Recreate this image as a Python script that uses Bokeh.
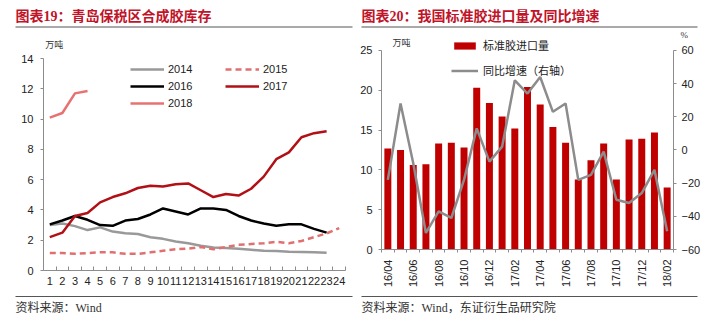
from math import pi
from bokeh.plotting import figure
from bokeh.layouts import row, column
from bokeh.models import (Range1d, LinearAxis, FixedTicker, Legend, LegendItem,
                          Label, BoxAnnotation, ColumnDataSource)
from bokeh.embed import file_html
from bokeh.resources import INLINE

# ---------------- data ----------------
weeks = list(range(1, 25))
week_labels = [str(i) for i in weeks]
s2014 = [3.0, 3.1, 2.93, 2.67, 2.85, 2.57, 2.46, 2.41, 2.2, 2.09, 1.91, 1.8, 1.63,
         1.52, 1.48, 1.43, 1.37, 1.3, 1.28, 1.24, 1.22, 1.2, 1.17]
s2015 = [1.15, 1.15, 1.1, 1.15, 1.2, 1.2, 1.1, 1.1, 1.2, 1.3, 1.4, 1.45, 1.55, 1.4,
         1.55, 1.7, 1.75, 1.8, 1.9, 1.8, 1.95, 2.2, 2.45, 2.8]
s2016 = [3.05, 3.3, 3.6, 3.35, 3.0, 2.95, 3.3, 3.4, 3.7, 4.1, 3.9, 3.7, 4.1, 4.1,
         4.0, 3.6, 3.3, 3.1, 2.95, 3.05, 3.05, 2.75, 2.5]
s2017 = [2.2, 2.5, 3.6, 3.8, 4.5, 4.85, 5.1, 5.45, 5.6, 5.55, 5.7, 5.75, 5.3, 4.85,
         5.05, 4.95, 5.4, 6.2, 7.35, 7.8, 8.8, 9.07, 9.2]
s2018 = [10.1, 10.4, 11.7, 11.85]

months = ["16/04", "16/05", "16/06", "16/07", "16/08", "16/09", "16/10", "16/11",
          "16/12", "17/01", "17/02", "17/03", "17/04", "17/05", "17/06", "17/07",
          "17/08", "17/09", "17/10", "17/11", "17/12", "18/01", "18/02"]
imports = [12.7, 12.5, 10.6, 10.7, 13.3, 13.4, 12.8, 20.3, 18.4, 16.7, 15.2, 20.4,
           18.2, 15.4, 13.4, 8.8, 11.2, 13.3, 8.8, 13.8, 13.9, 14.7, 7.8]
yoy = [-18, 28, -8, -50, -37, -41, -18, 13, -7, 2, 42, 34, 44, 23, 28, -18, -15,
       -1, -30, -32, -26, -12, -49]

TITLE_COLOR = "#c0142a"
CJK = "Liberation Serif, Noto Sans CJK SC"
NUM = "Liberation Sans"
AXIS_COLOR = "#8c8c8c"
HEAD_H = 38


def base_fig(width, height, l, r, t, b, xr, yr):
    p = figure(width=width, height=height, output_backend="svg", toolbar_location=None,
               x_range=xr, y_range=yr, min_border_left=l, min_border_right=r,
               min_border_top=t, min_border_bottom=b, frame_align=False)
    p.xgrid.visible = False
    p.ygrid.visible = False
    p.outline_line_color = None
    p.background_fill_color = "white"
    p.border_fill_color = "white"
    return p


def deco_fig(width, height, y0, y1):
    # frame covers the whole canvas; data units equal page pixels
    p = figure(width=width, height=height, output_backend="svg", toolbar_location=None,
               x_range=Range1d(0, width), y_range=Range1d(y1, y0),
               x_axis_type=None, y_axis_type=None, min_border=0, frame_align=False)
    p.outline_line_color = None
    p.background_fill_color = "white"
    p.border_fill_color = "white"
    return p


def style_axis(ax):
    ax.axis_line_color = AXIS_COLOR
    ax.major_tick_line_color = AXIS_COLOR
    ax.minor_tick_line_color = AXIS_COLOR
    ax.major_label_text_font = NUM
    ax.major_label_text_font_size = "11px"
    ax.major_label_text_color = "#222222"


def add_text(p, x, y, text, size, color, font, bold=False):
    p.add_layout(Label(x=x, y=y, text=text,
                       text_font=font, text_font_size=size, text_color=color,
                       text_baseline="middle", text_align="left",
                       text_font_style="bold" if bold else "normal"))


def add_rule(p, x0, x1, y):
    p.add_layout(BoxAnnotation(left=x0, right=x1, top=y - 0.5, bottom=y + 0.5,
                               fill_color="#555555", fill_alpha=1, line_color=None))


def mk_legend(items, loc, gw, gh, lh, spacing, font, standoff):
    return Legend(items=items, location=loc, orientation="vertical", padding=0, margin=0,
                  border_line_color=None, background_fill_alpha=0, glyph_width=gw,
                  glyph_height=gh, label_height=lh, spacing=spacing, label_standoff=standoff,
                  label_text_font=font, label_text_font_size="11px",
                  label_text_color="#222222")


# ---------------- header / footer ----------------
head = deco_fig(714, HEAD_H, 0, HEAD_H)
add_text(head, 15, 16, "图表19：青岛保税区合成胶库存", "14px", TITLE_COLOR, CJK, bold=True)
add_text(head, 361, 16, "图表20：我国标准胶进口量及同比增速", "14px", TITLE_COLOR, CJK, bold=True)
add_rule(head, 15, 352, 26.5)
add_rule(head, 361, 697, 26.5)
add_text(head, 680, 34, "%", "9px", "#333333", CJK)

foot = deco_fig(714, 32, 290, 322)
add_rule(foot, 15, 352, 296)
add_rule(foot, 361, 697, 296)
add_text(foot, 15, 307, "资料来源：Wind", "12px", "#333333", CJK)
add_text(foot, 361, 307, "资料来源：Wind，东证衍生品研究院", "12px", "#333333", CJK)

ROW_H = 290 - HEAD_H

# ---------------- left chart (frame page y 38..270) ----------------
p1 = base_fig(357, ROW_H, 43, 12, 0, 20, Range1d(0.5, 24.5), Range1d(0, (270 - HEAD_H) / 15.14))
style_axis(p1.xaxis[0])
style_axis(p1.yaxis[0])
p1.xaxis[0].ticker = FixedTicker(ticks=weeks, minor_ticks=[w + 0.5 for w in range(0, 25)])
p1.xaxis[0].major_label_overrides = {w: lab for w, lab in zip(weeks, week_labels)}
p1.xaxis[0].major_tick_in = 0
p1.xaxis[0].major_tick_out = 0
p1.xaxis[0].minor_tick_in = 4
p1.xaxis[0].minor_tick_out = 0
p1.xaxis[0].major_label_standoff = 6
p1.yaxis[0].ticker = FixedTicker(ticks=list(range(0, 15, 2)))
p1.yaxis[0].bounds = (0, 14)
p1.yaxis[0].major_tick_in = 0
p1.yaxis[0].major_tick_out = 3
p1.yaxis[0].minor_tick_line_color = None
p1.yaxis[0].major_label_standoff = 7

r14 = p1.line(weeks[:len(s2014)], s2014, line_color="#999999", line_width=2.5)
r15 = p1.line(weeks[:len(s2015)], s2015, line_color="#e07070", line_width=2.5, line_dash="6 4")
r16 = p1.line(weeks[:len(s2016)], s2016, line_color="#000000", line_width=2.5)
r17 = p1.line(weeks[:len(s2017)], s2017, line_color="#b01016", line_width=2.5)
r18 = p1.line(weeks[:len(s2018)], s2018, line_color="#e87272", line_width=2.5)

p1.add_layout(mk_legend([LegendItem(label="2014", renderers=[r14]),
                         LegendItem(label="2016", renderers=[r16]),
                         LegendItem(label="2018", renderers=[r18])],
                        (87, 159), 34, 16, 16, 1, NUM, 4))
p1.add_layout(mk_legend([LegendItem(label="2015", renderers=[r15]),
                         LegendItem(label="2017", renderers=[r17])],
                        (182, 176), 34, 16, 16, 1, NUM, 4))
add_text(p1, 0.63, 14.87, "万吨", "9px", "#333333", CJK)

# ---------------- right chart (frame page y 38..250) ----------------
idx = list(range(1, len(months) + 1))
top_px = 250 - HEAD_H
p2 = base_fig(357, ROW_H, 24, 41, 0, 40, Range1d(0.5, len(months) + 0.5), Range1d(0, top_px / 8.0))
p2.extra_y_ranges = {"pct": Range1d(-60, -60 + top_px / (200.0 / 120.0))}
style_axis(p2.xaxis[0])
style_axis(p2.yaxis[0])
p2.xaxis[0].ticker = FixedTicker(ticks=idx[::2], minor_ticks=[i + 0.5 for i in range(0, len(months) + 1)])
p2.xaxis[0].major_label_overrides = {i: m for i, m in zip(idx, months)}
p2.xaxis[0].major_label_orientation = pi / 2
p2.xaxis[0].major_tick_in = 0
p2.xaxis[0].major_tick_out = 0
p2.xaxis[0].minor_tick_in = 0
p2.xaxis[0].minor_tick_out = 3
p2.xaxis[0].major_label_standoff = 7
p2.yaxis[0].ticker = FixedTicker(ticks=[0, 5, 10, 15, 20, 25])
p2.yaxis[0].bounds = (0, 25)
p2.yaxis[0].major_tick_in = 0
p2.yaxis[0].major_tick_out = 3
p2.yaxis[0].minor_tick_line_color = None
p2.yaxis[0].major_label_standoff = 6

ax_r = LinearAxis(y_range_name="pct", ticker=FixedTicker(ticks=list(range(-60, 61, 20))),
                  bounds=(-60, 60))
style_axis(ax_r)
ax_r.major_tick_in = 0
ax_r.major_tick_out = 3
ax_r.minor_tick_line_color = None
ax_r.major_label_standoff = 5
p2.add_layout(ax_r, "right")

src = ColumnDataSource(dict(x=idx, imports=imports, yoy=yoy))
rb = p2.vbar(x="x", top="imports", width=0.55, source=src, fill_color="#c00000",
             line_color=None)
rl = p2.line(x="x", y="yoy", source=src, y_range_name="pct", line_color="#8c8c8c",
             line_width=2.5)

p2.add_layout(mk_legend([LegendItem(label="标准胶进口量", renderers=[rb]),
                         LegendItem(label="同比增速（右轴）", renderers=[rl])],
                        (70, 171), 27, 9, 16, 9, CJK, 5))
add_text(p2, 1.37, 25.9, "万吨", "9px", "#333333", CJK)

layout = column(head, row(p1, p2, spacing=0), foot, spacing=0)
open("out.html", "w").write(file_html(layout, INLINE))
